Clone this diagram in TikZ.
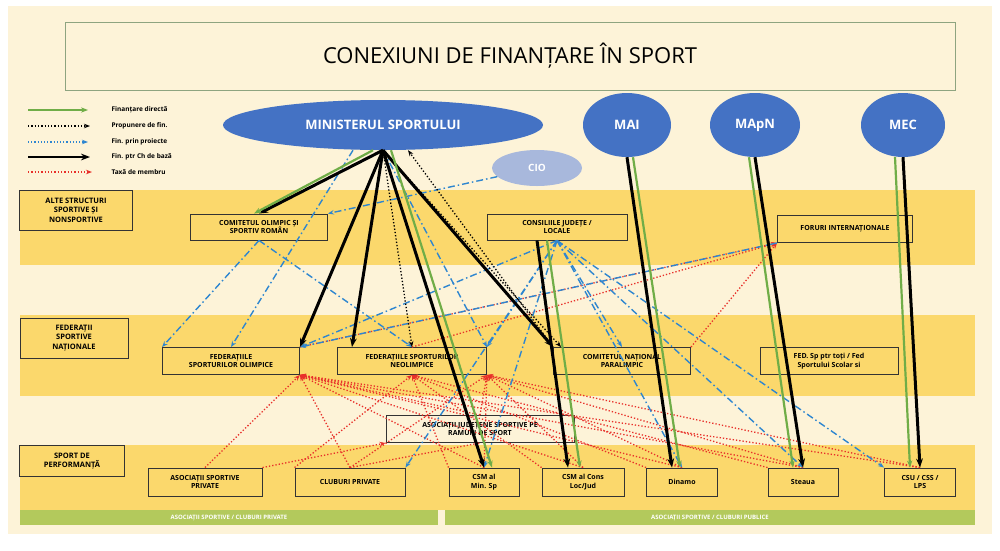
\documentclass[tikz,border=0pt]{standalone}
\usepackage{fontspec}
\setmainfont{Open Sans}
\usetikzlibrary{arrows.meta,shapes.geometric}
\definecolor{cream}{HTML}{FDF3D8}
\definecolor{band}{HTML}{FBD86C}
\definecolor{bar}{HTML}{B3C95C}
\definecolor{navy}{HTML}{4472C4}
\definecolor{cio}{HTML}{A8B8DC}
\definecolor{gr}{HTML}{70AD47}
\definecolor{bl}{HTML}{2E86D0}
\definecolor{rd}{HTML}{E8302A}
\begin{document}
\begin{tikzpicture}[x=1pt,y=-1pt,
 box/.style={draw=black!80,line width=0.9pt,fill=band,font=\fontsize{7}{8.5}\selectfont\bfseries,align=center,inner sep=1pt},
 side/.style={box,font=\fontsize{7.5}{9.5}\selectfont\bfseries},
 ell/.style={ellipse,fill=navy,text=white,font=\fontsize{13}{15}\selectfont\bfseries},
 gA/.style={draw=gr,line width=2.2pt,-{Stealth[length=7pt]}},
 kA/.style={draw=black,line width=3pt,-{Stealth[length=9pt]}},
 dA/.style={draw=black,line width=1.3pt,dotted,-{Stealth[length=6pt]}},
 bA/.style={draw=bl,line width=1.4pt,dash pattern=on 7pt off 3pt on 1.5pt off 3pt,-{Stealth[length=6pt]}},
 bL/.style={draw=bl,line width=1.2pt,dotted,-{Stealth[length=6pt]}},
 rA/.style={draw=rd,line width=1.3pt,dotted,-{Stealth[length=6pt]}},
 leg/.style={font=\fontsize{6.5}{7.5}\selectfont\bfseries,anchor=west}]
\useasboundingbox (0,0) rectangle (1000,550);
\fill[white] (0,0) rectangle (1000,550);
\fill[cream] (8,6) rectangle (992,534);
\fill[band] (20,190) rectangle (975,265);
\fill[band] (20,315) rectangle (975,396);
\fill[band] (20,445) rectangle (975,510);
\fill[bar] (20,510) rectangle (438,525);
\fill[bar] (445,510) rectangle (975,525);
\node[font=\fontsize{6}{7}\selectfont\bfseries,text=white] (bp) at (229,517.5) {ASOCIAȚII SPORTIVE / CLUBURI PRIVATE};
\node[font=\fontsize{6}{7}\selectfont\bfseries,text=white] (bu) at (710,517.5) {ASOCIAȚII SPORTIVE / CLUBURI PUBLICE};
\node[draw=gr!60!black!60,fill=cream,minimum width=890pt,minimum height=68pt,font=\fontsize{22}{26}\selectfont] (title) at (510,56) {CONEXIUNI DE FINANȚARE ÎN SPORT};
% legend
\coordinate (l1a) at (28,110); \coordinate (l1b) at (88,110);
\coordinate (l2a) at (28,126); \coordinate (l2b) at (90,126);
\coordinate (l3a) at (28,142); \coordinate (l3b) at (88,142);
\coordinate (l4a) at (28,157); \coordinate (l4b) at (90,157);
\coordinate (l5a) at (28,172); \coordinate (l5b) at (92,172);
\draw[gA,line width=1.2pt] (l1a)--(l1b); \draw[dA] (l2a)--(l2b); \draw[bL] (l3a)--(l3b); \draw[kA,line width=2.4pt] (l4a)--(l4b); \draw[rA] (l5a)--(l5b);
\node[leg] (t1) at (108,110) {Finanțare directă};
\node[leg] (t2) at (108,126) {Propunere de fin.};
\node[leg] (t3) at (108,142) {Fin. prin proiecte};
\node[leg] (t4) at (108,157) {Fin. ptr Ch de bază};
\node[leg] (t5) at (108,172) {Taxă de membru};
% side labels
\node[side,minimum width=113pt,minimum height=40pt] (s1) at (76,210) {ALTE STRUCTURI\\SPORTIVE ȘI\\NONSPORTIVE};
\node[side,minimum width=108pt,minimum height=40pt] (s2) at (74,338) {FEDERAȚII\\SPORTIVE\\NAȚIONALE};
\node[side,minimum width=105pt,minimum height=31pt] (s3) at (72,461) {SPORT DE\\PERFORMANȚĂ};
% ellipses
\node[ell,minimum width=320pt,minimum height=50pt] (ms) at (383,125) {MINISTERUL SPORTULUI};
\node[ell,minimum width=88pt,minimum height=64pt] (mai) at (627,125) {MAI};
\node[ell,minimum width=90pt,minimum height=64pt] (mapn) at (755,125) {MApN};
\node[ell,minimum width=84pt,minimum height=64pt] (mec) at (903,125) {MEC};
\node[ellipse,fill=cio,text=white,minimum width=90pt,minimum height=36pt,font=\fontsize{10}{12}\selectfont\bfseries] (cio) at (537,168) {CIO};
% boxes
\node[box,minimum width=137pt,minimum height=26pt] (cosr) at (259,227) {COMITETUL OLIMPIC ȘI\\SPORTIV ROMÂN};
\node[box,minimum width=140pt,minimum height=26pt] (cjl) at (557,227) {CONSILIILE JUDEȚE /\\LOCALE};
\node[box,minimum width=135pt,minimum height=27pt] (for) at (845,229) {FORURI INTERNAȚIONALE};
\node[box,minimum width=137pt,minimum height=27pt] (fso) at (231,361) {FEDERAȚIILE\\SPORTURILOR OLIMPICE};
\node[box,minimum width=149pt,minimum height=27pt] (fsn) at (412,361) {FEDERAȚIILE SPORTURILOR\\NEOLIMPICE};
\node[box,minimum width=137pt,minimum height=27pt] (cnp) at (622,361) {COMITETUL NAȚIONAL\\PARALIMPIC};
\node[box,minimum width=138pt,minimum height=27pt] (fed) at (829,361) {FED. Sp ptr toți / Fed\\Sportului Scolar si};
\node[box,fill=cream,minimum width=188pt,minimum height=27pt] (ajs) at (480,429) {ASOCIAȚII JUDEȚENE SPORTIVE PE\\RAMURI DE SPORT};
\node[box,minimum width=114pt,minimum height=28pt] (asp) at (205,482) {ASOCIAȚII SPORTIVE\\PRIVATE};
\node[box,minimum width=110pt,minimum height=28pt] (clp) at (350,482) {CLUBURI PRIVATE};
\node[box,minimum width=70pt,minimum height=28pt] (csm1) at (484,482) {CSM al\\Min. Sp};
\node[box,minimum width=82pt,minimum height=28pt] (csm2) at (583,482) {CSM al Cons\\Loc/Jud};
\node[box,minimum width=71pt,minimum height=28pt] (din) at (682,482) {Dinamo};
\node[box,minimum width=70pt,minimum height=28pt] (ste) at (803,482) {Steaua};
\node[box,minimum width=71pt,minimum height=28pt] (csu) at (920,482) {CSU / CSS /\\LPS};
% red membership
\foreach \s in {asp,clp,csm1,csm2,din,ste,csu,ajs}{\draw[rA] (\s.north) -- (fso.south east);}
\foreach \s in {clp,csm1,csm2,din,ste,csu,ajs}{\draw[rA] (\s.north) -- (fsn.south east);}
\foreach \s in {clp,csm1,csm2,din,ste}{\draw[rA] (\s.north west) -- (fsn.south);}
\draw[rA] (fso.north east) -- (for.south west);
\draw[rA] (fsn.north) -- (for.south west);
\draw[rA] (cnp.north east) -- (for.south west);
\draw[rA] (asp.north east) -- (ajs.south west);
\draw[rA] (clp.north) -- (ajs.south);
% blue projects
\draw[bA] ([xshift=-30pt]ms.south) -- (fso.north);
\draw[bA] (cio) -- (cosr.north east);
\draw[bA] (cosr.south) -- (fso.north west);
\draw[bA] (cosr.south) -- (fsn.north);
\draw[bA] (ms.south) -- (fsn.north east);
\foreach \t in {fso.north east,fsn.north east,cnp.north,din.north,ste.north,csu.north west,csm1.north,clp.north east}{\draw[bA] (cjl.south) -- (\t);}
\draw[bA] (for.south west) -- (fso.north east);
% dotted proposals
\draw[dA] (ms.south) -- (fsn.north);
\draw[dA] (ms.south) -- ([xshift=8pt]cnp.north west);
\draw[dA] (cnp.north west) -- ([xshift=25pt]ms.south);
% thick black
\draw[kA] (ms.south) -- (cosr.north);
\draw[kA] (ms.south) -- (fso.north east);
\draw[kA] (ms.south) -- ([xshift=-60pt]fsn.north);
\draw[kA] (ms.south) -- (cnp.north west);
\draw[kA] (ms.south) -- (csm1.north);
\draw[kA] ([xshift=-20pt]cjl.south) -- ([xshift=-15pt]csm2.north);
\draw[kA] (mai.south) -- ([xshift=-10pt]din.north);
\draw[kA] (mapn.south) -- (ste.north);
\draw[kA] (mec.south) -- (csu.north);
% green direct
\draw[gA] ([xshift=-10pt]ms.south) -- ([xshift=-5pt]cosr.north);
\draw[gA] ([xshift=8pt]ms.south) -- ([xshift=8pt]csm1.north);
\draw[gA] ([xshift=-10pt]cjl.south) -- ([xshift=-3pt]csm2.north);
\draw[gA] ([xshift=6pt]mai.south) -- ([xshift=-2pt]din.north);
\draw[gA] ([xshift=-6pt]mapn.south) -- ([xshift=-10pt]ste.north);
\draw[gA] ([xshift=-8pt]mec.south) -- ([xshift=-10pt]csu.north);
\end{tikzpicture}
\end{document}
